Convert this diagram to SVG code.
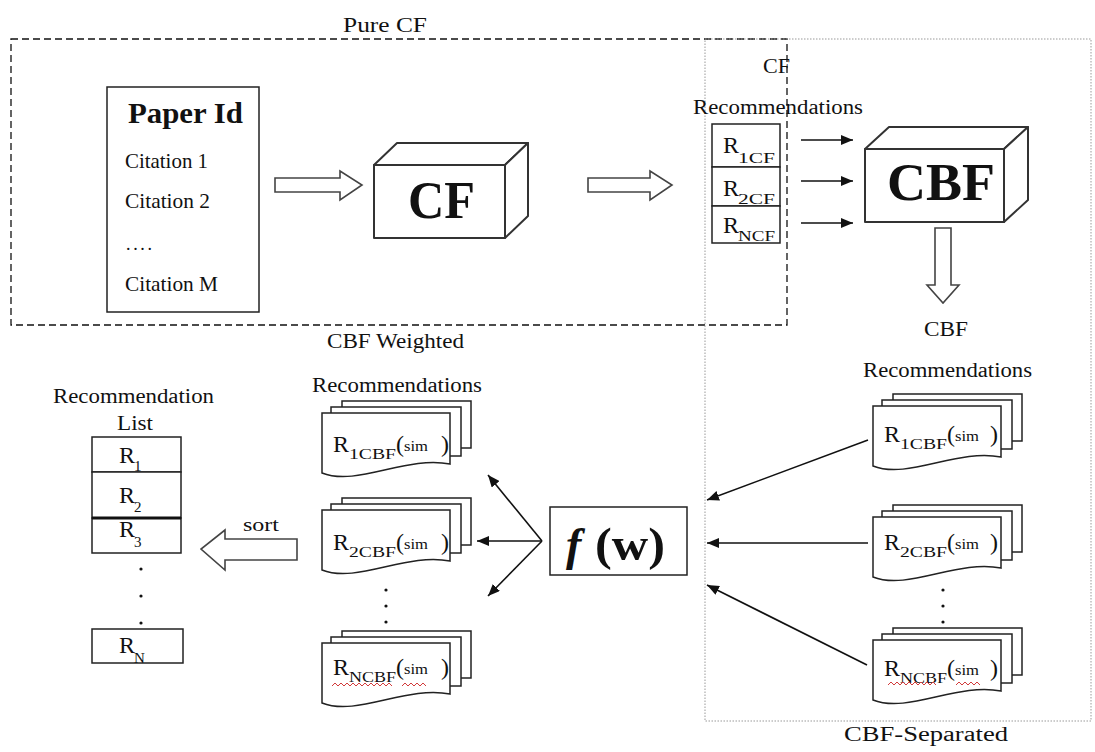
<svg xmlns="http://www.w3.org/2000/svg" xmlns:xlink="http://www.w3.org/1999/xlink" width="1095" height="752" viewBox="0 0 1095 752">
  <style>
    text { font-family: "Liberation Serif", "Times New Roman", serif; fill: #111; }
    .lbl { font-size: 20px; }
    .big { font-weight: bold; }
    .box { fill: #fff; stroke: #222; stroke-width: 1.5; }
    .cube { fill: #fff; stroke: #333; stroke-width: 2; stroke-linejoin: round; }
    .hollow { fill: #fff; stroke: #444; stroke-width: 1.6; stroke-linejoin: miter; }
    .sheet { fill: #fff; stroke: #222; stroke-width: 1.5; }
    .edge { fill: none; stroke: #111; stroke-width: 1.6; }
    .dot { fill: #111; }
    .squiggle { fill: none; stroke: #d23b3b; stroke-width: 1; }
    .r { font-size: 24px; }
    .sub { font-size: 15px; }
    .sim { font-size: 15px; }
  </style>
  <defs>
    <marker id="ah" viewBox="0 0 12 10" refX="12" refY="5" markerWidth="12" markerHeight="10" orient="auto" markerUnits="userSpaceOnUse">
      <path d="M0,0 L12,5 L0,10 z" fill="#111"/>
    </marker>
    <!-- stack of three document sheets, front sheet top-left at origin -->
    <g id="doc">
      <rect class="sheet" x="20" y="-12" width="129" height="47"/>
      <rect class="sheet" x="9" y="-6" width="130" height="49"/>
      <path class="sheet" d="M0,60 V0 H128 V51 C85,42 35,74 0,60 Z"/>
    </g>
  </defs>

  <rect width="1095" height="752" fill="#fff"/>

  <!-- group outlines -->
  <g id="pure-cf-region">
    <rect x="11" y="39" width="776" height="286" fill="none" stroke="#111" stroke-width="1.3" stroke-dasharray="7,4"/>
    <text class="lbl" x="343" y="32" textLength="84" lengthAdjust="spacingAndGlyphs">Pure CF</text>
  </g>
  <g id="cbf-separated-region">
    <rect x="705" y="39" width="386" height="682" fill="none" stroke="#999" stroke-width="1" stroke-dasharray="1.5,1.5"/>
    <text class="lbl" x="844" y="741" textLength="164" lengthAdjust="spacingAndGlyphs">CBF-Separated</text>
  </g>

  <!-- source paper with its citations -->
  <g id="paper">
    <rect class="box" x="107" y="87" width="152" height="225"/>
    <text class="big" x="128" y="123" font-size="30" textLength="115" lengthAdjust="spacingAndGlyphs">Paper Id</text>
    <text x="125" y="168" font-size="21" textLength="83" lengthAdjust="spacingAndGlyphs">Citation 1</text>
    <text x="125" y="208" font-size="21" textLength="85" lengthAdjust="spacingAndGlyphs">Citation 2</text>
    <text x="126" y="250" font-size="18" textLength="26">....</text>
    <text x="125" y="291" font-size="21" textLength="93" lengthAdjust="spacingAndGlyphs">Citation M</text>
  </g>

  <!-- collaborative filtering engine -->
  <g id="cf">
    <path class="cube" d="M374,165 L397,143 L528,143 L505,165 Z"/>
    <path class="cube" d="M505,165 L528,143 L528,216 L505,238 Z"/>
    <rect class="cube" x="374" y="165" width="131" height="73"/>
    <text class="big" x="408" y="218" font-size="52" textLength="67" lengthAdjust="spacingAndGlyphs">CF</text>
  </g>

  <!-- CF recommendation list -->
  <g id="cf-recommendations">
    <text class="lbl" x="763" y="73" textLength="27" lengthAdjust="spacingAndGlyphs">CF</text>
    <text class="lbl" x="693" y="114" textLength="170" lengthAdjust="spacingAndGlyphs">Recommendations</text>
    <rect class="box" x="712" y="124" width="68" height="43"/>
    <rect class="box" x="712" y="167" width="68" height="39"/>
    <rect class="box" x="712" y="206" width="68" height="37"/>
    <text class="r" x="723" y="153">R</text><text class="sub" x="738" y="163" textLength="37" lengthAdjust="spacingAndGlyphs">1CF</text>
    <text class="r" x="723" y="196">R</text><text class="sub" x="738" y="204" textLength="37" lengthAdjust="spacingAndGlyphs">2CF</text>
    <text class="r" x="723" y="233">R</text><text class="sub" x="738" y="241" textLength="37" lengthAdjust="spacingAndGlyphs">NCF</text>
  </g>

  <!-- content-based filtering engine -->
  <g id="cbf">
    <path class="cube" d="M865,149 L889,127 L1028,127 L1004,149 Z"/>
    <path class="cube" d="M1004,149 L1028,127 L1028,200 L1004,222 Z"/>
    <rect class="cube" x="865" y="149" width="139" height="73"/>
    <text class="big" x="887" y="200" font-size="52" textLength="108" lengthAdjust="spacingAndGlyphs">CBF</text>
  </g>

  <!-- CBF recommendations (separated) -->
  <g id="cbf-recommendations">
    <text class="lbl" x="924" y="336" textLength="44" lengthAdjust="spacingAndGlyphs">CBF</text>
    <text class="lbl" x="863" y="377" textLength="169" lengthAdjust="spacingAndGlyphs">Recommendations</text>
    <use xlink:href="#doc" href="#doc" x="873" y="406"/>
    <text class="r" x="884" y="442">R</text><text class="sub" x="900" y="449" textLength="47" lengthAdjust="spacingAndGlyphs">1CBF</text>
    <text class="r" x="947" y="442">(</text><text class="sim" x="955" y="441" textLength="24" lengthAdjust="spacingAndGlyphs">sim</text><text class="r" x="990" y="442">)</text>

    <use xlink:href="#doc" href="#doc" x="873" y="517"/>
    <text class="r" x="884" y="550">R</text><text class="sub" x="900" y="557" textLength="47" lengthAdjust="spacingAndGlyphs">2CBF</text>
    <text class="r" x="947" y="550">(</text><text class="sim" x="955" y="549" textLength="24" lengthAdjust="spacingAndGlyphs">sim</text><text class="r" x="990" y="550">)</text>

    <circle class="dot" cx="943" cy="590" r="1.6"/>
    <circle class="dot" cx="943" cy="606" r="1.6"/>
    <circle class="dot" cx="943" cy="622" r="1.6"/>

    <use xlink:href="#doc" href="#doc" x="873" y="640"/>
    <text class="r" x="884" y="676">R</text><text class="sub" x="900" y="683" textLength="47" lengthAdjust="spacingAndGlyphs">NCBF</text>
    <text class="r" x="947" y="676">(</text><text class="sim" x="955" y="675" textLength="24" lengthAdjust="spacingAndGlyphs">sim</text><text class="r" x="990" y="676">)</text>
    <path class="squiggle" d="M888,685 l3,-3 3,3 3,-3 3,3 3,-3 3,3 3,-3 3,3 3,-3 3,3 3,-3 3,3 3,-3 3,3 3,-3 3,3"/>
    <path class="squiggle" d="M956,685 l3,-3 3,3 3,-3 3,3 3,-3 3,3 3,-3 3,3"/>
  </g>

  <!-- weighting function -->
  <g id="fw">
    <rect class="box" x="550" y="507" width="137" height="68"/>
    <text class="big" x="566" y="560" font-size="46" font-style="italic">f</text>
    <text class="big" x="595" y="560" font-size="46" textLength="70" lengthAdjust="spacingAndGlyphs">(w)</text>
  </g>

  <!-- CBF weighted recommendations -->
  <g id="weighted-recommendations">
    <text class="lbl" x="327" y="348" textLength="137" lengthAdjust="spacingAndGlyphs">CBF Weighted</text>
    <text class="lbl" x="312" y="392" textLength="170" lengthAdjust="spacingAndGlyphs">Recommendations</text>
    <use xlink:href="#doc" href="#doc" x="322" y="413"/>
    <text class="r" x="333" y="452">R</text><text class="sub" x="349" y="459" textLength="47" lengthAdjust="spacingAndGlyphs">1CBF</text>
    <text class="r" x="396" y="452">(</text><text class="sim" x="404" y="451" textLength="24" lengthAdjust="spacingAndGlyphs">sim</text><text class="r" x="441" y="452">)</text>

    <use xlink:href="#doc" href="#doc" x="322" y="510"/>
    <text class="r" x="333" y="550">R</text><text class="sub" x="349" y="557" textLength="47" lengthAdjust="spacingAndGlyphs">2CBF</text>
    <text class="r" x="396" y="550">(</text><text class="sim" x="404" y="549" textLength="24" lengthAdjust="spacingAndGlyphs">sim</text><text class="r" x="441" y="550">)</text>

    <circle class="dot" cx="386" cy="590" r="1.6"/>
    <circle class="dot" cx="386" cy="606" r="1.6"/>
    <circle class="dot" cx="386" cy="622" r="1.6"/>

    <use xlink:href="#doc" href="#doc" x="322" y="643"/>
    <text class="r" x="333" y="675">R</text><text class="sub" x="349" y="682" textLength="47" lengthAdjust="spacingAndGlyphs">NCBF</text>
    <text class="r" x="396" y="675">(</text><text class="sim" x="404" y="674" textLength="24" lengthAdjust="spacingAndGlyphs">sim</text><text class="r" x="441" y="675">)</text>
    <path class="squiggle" d="M332,686 l3,-3 3,3 3,-3 3,3 3,-3 3,3 3,-3 3,3 3,-3 3,3 3,-3 3,3 3,-3 3,3 3,-3 3,3 3,-3 3,3 3,-3 3,3"/>
    <path class="squiggle" d="M402,686 l3,-3 3,3 3,-3 3,3 3,-3 3,3 3,-3 3,3"/>
  </g>

  <!-- final sorted list -->
  <g id="recommendation-list">
    <text class="lbl" x="53" y="403" textLength="161" lengthAdjust="spacingAndGlyphs">Recommendation</text>
    <text class="lbl" x="117" y="430" textLength="36" lengthAdjust="spacingAndGlyphs">List</text>
    <rect class="box" x="92" y="437" width="89" height="35"/>
    <rect class="box" x="92" y="472" width="89" height="46"/>
    <rect class="box" x="92" y="518" width="89" height="35"/>
    <line x1="92" y1="518" x2="181" y2="518" stroke="#111" stroke-width="3"/>
    <rect class="box" x="92" y="629" width="91" height="34"/>
    <text class="r" x="119" y="463">R</text><text class="sub" x="134" y="471">1</text>
    <text class="r" x="119" y="503">R</text><text class="sub" x="134" y="512">2</text>
    <text class="r" x="119" y="537">R</text><text class="sub" x="134" y="547">3</text>
    <text class="r" x="119" y="653">R</text><text class="sub" x="134" y="663">N</text>
    <circle class="dot" cx="141" cy="569" r="1.6"/>
    <circle class="dot" cx="141" cy="596" r="1.6"/>
    <circle class="dot" cx="141" cy="623" r="1.6"/>
  </g>

  <!-- connectors -->
  <g id="connectors">
    <!-- block arrows -->
    <path class="hollow" d="M275,178 H340 V171 L362,185 L340,200 V192 H275 Z"/>
    <path class="hollow" d="M588,178 H650 V171 L672,185 L650,200 V192 H588 Z"/>
    <path class="hollow" d="M935,228 H951 V285 H959 L943,303 L927,285 H935 Z"/>
    <path class="hollow" d="M297,539 H225 V530 L201,549 L225,570 V560 H297 Z"/>
    <text x="243" y="531" font-size="19" textLength="36" lengthAdjust="spacingAndGlyphs">sort</text>
    <!-- CF recommendations into CBF -->
    <line class="edge" x1="801" y1="140" x2="853" y2="140" marker-end="url(#ah)"/>
    <line class="edge" x1="801" y1="181" x2="853" y2="181" marker-end="url(#ah)"/>
    <line class="edge" x1="801" y1="223" x2="853" y2="223" marker-end="url(#ah)"/>
    <!-- separated CBF results into the weighting function -->
    <line class="edge" x1="868" y1="440" x2="707" y2="500" marker-end="url(#ah)"/>
    <line class="edge" x1="868" y1="543" x2="707" y2="543" marker-end="url(#ah)"/>
    <line class="edge" x1="867" y1="665" x2="707" y2="585" marker-end="url(#ah)"/>
    <!-- weighting function out to weighted results -->
    <line class="edge" x1="542" y1="541" x2="488" y2="475" marker-end="url(#ah)"/>
    <line class="edge" x1="542" y1="541" x2="477" y2="541" marker-end="url(#ah)"/>
    <line class="edge" x1="542" y1="541" x2="488" y2="596" marker-end="url(#ah)"/>
  </g>
</svg>
